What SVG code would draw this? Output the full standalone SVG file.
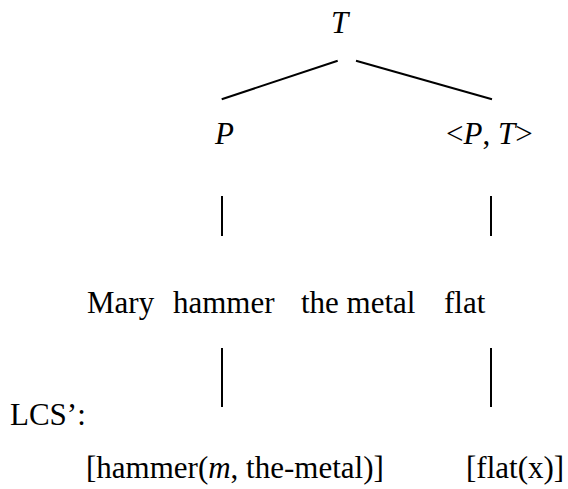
<svg xmlns="http://www.w3.org/2000/svg" width="568" height="489" viewBox="0 0 568 489" font-family="'Liberation Serif', serif" font-size="31">
<style>
text{font-family:'Liberation Serif',serif;font-size:31px;fill:#000}
.i{font-style:italic}
.e line{stroke:#000;stroke-width:2;stroke-linecap:butt}
</style>
<rect width="568" height="489" fill="#fff"/>
<g class="e" id="connectors">
<line x1="221.7" y1="99.3" x2="337.7" y2="60.7"/>
<line x1="356" y1="60.7" x2="492" y2="99.3"/>
<line x1="222" y1="196" x2="222" y2="236"/>
<line x1="491" y1="196" x2="491" y2="236"/>
<line x1="222" y1="348" x2="222" y2="407"/>
<line x1="491" y1="348" x2="491" y2="407"/>
</g>
<g id="node-T"><text class="i" x="331" y="33">T</text></g>
<g id="node-P"><text class="i" x="215" y="144">P</text></g>
<g id="node-PT"><text x="446" y="144">&lt;<tspan class="i">P</tspan>, <tspan class="i">T</tspan>&gt;</text></g>
<g id="node-sentence">
<text x="87" y="313">Mary</text>
<text x="173" y="313">hammer</text>
<text x="301" y="313">the metal</text>
<text x="444" y="313">flat</text>
</g>
<g id="node-lcs-label"><text x="10" y="425">LCS’:</text></g>
<g id="node-lcs-hammer"><text x="86" y="478">[hammer(<tspan class="i">m</tspan>, the-metal)]</text></g>
<g id="node-lcs-flat"><text x="466" y="478">[flat(x)]</text></g>
</svg>
